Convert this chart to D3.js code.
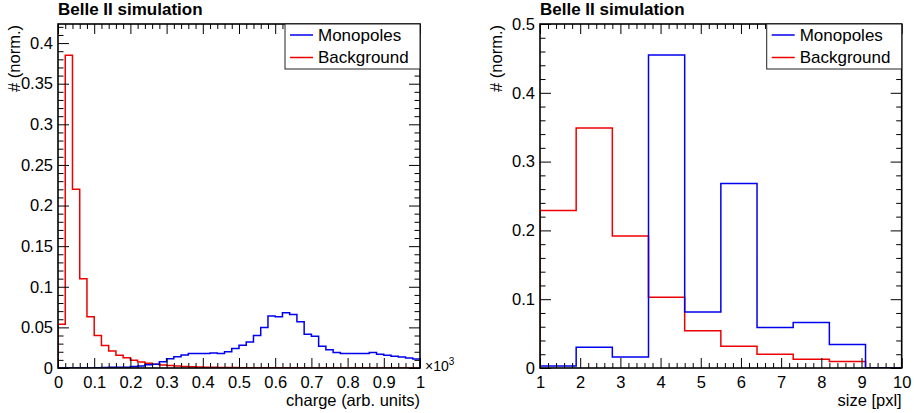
<!DOCTYPE html>
<html>
<head>
<meta charset="utf-8">
<script src="https://cdn.jsdelivr.net/npm/d3@7"></script>
<style>
  body { margin: 0; background: #fff; }
  svg { display: block; font-family: "Liberation Sans", Arial, Helvetica, sans-serif; }
</style>
</head>
<body>
<svg id="chart" width="914" height="413"></svg>
<script>
// charge histogram, 50 bins from 0 to 1000 (arb. units)
var chargeRange = [0, 1000];
var chargeMonopoles = [
  0, 0, 0, 0, 0, 0.0003, 0.0005, 0.001, 0.001, 0.001,
  0.002, 0.0025, 0.004, 0.0045, 0.0078, 0.0115, 0.014, 0.016, 0.018, 0.018,
  0.018, 0.0185, 0.018, 0.020, 0.024, 0.028, 0.032, 0.040, 0.050, 0.064,
  0.063, 0.068, 0.066, 0.057, 0.0415, 0.039, 0.0267, 0.0226, 0.019, 0.0177,
  0.0177, 0.0177, 0.0177, 0.019, 0.017, 0.0156, 0.0144, 0.0135, 0.0123, 0.011
];
var chargeBackground = [
  0.054, 0.385, 0.220, 0.110, 0.063, 0.040, 0.0276, 0.021, 0.0156, 0.0125,
  0.0095, 0.0074, 0.006, 0.0046, 0.0036, 0.003, 0.0024, 0.0018, 0.0014, 0.0011,
  0.0009, 0.0008, 0.0007, 0.0006, 0.0005, 0.0004, 0.0004, 0.0003, 0.0003, 0.0002,
  0.0002, 0.0002, 0.0002, 0.0001, 0.0001, 0.0001, 0.0001, 0.0001, 0.0001, 0.0001,
  0.0001, 0.0001, 0.0001, 0.0001, 0.0001, 0.0001, 0, 0, 0, 0
];

// cluster size histogram, 10 bins from 1 to 10 pixels
var sizeRange = [1, 10];
var sizeMonopoles = [0.003, 0.030, 0.016, 0.455, 0.0815, 0.268, 0.059, 0.066, 0.034, 0];
var sizeBackground = [0.229, 0.349, 0.192, 0.103, 0.054, 0.0316, 0.020, 0.0126, 0.0095, 0];

var chargeXTicks = [0, 0.1, 0.2, 0.3, 0.4, 0.5, 0.6, 0.7, 0.8, 0.9, 1];
var chargeYTicks = [0, 0.05, 0.1, 0.15, 0.2, 0.25, 0.3, 0.35, 0.4];
var sizeXTicks = [1, 2, 3, 4, 5, 6, 7, 8, 9, 10];
var sizeYTicks = [0, 0.1, 0.2, 0.3, 0.4, 0.5];

var legendNames = ["Monopoles", "Background"];
var monoColor = "#0000ee";
var bkgColor = "#ee0000";

var svg = d3.select("#chart");
var fontSize = 16.5;

function minorValues(majors, step, domain) {
  var out = [];
  var n = Math.round((domain[1] - domain[0]) / step);
  for (var i = 0; i <= n; i++) {
    var v = domain[0] + i * step;
    var isMajor = majors.some(function (m) { return Math.abs(m - v) < step / 10; });
    if (!isMajor) out.push(v);
  }
  return out;
}

function histPath(values, range, x, y) {
  var w = (range[1] - range[0]) / values.length;
  var pts = [[range[0], 0]];
  values.forEach(function (v, i) {
    pts.push([range[0] + i * w, v]);
    pts.push([range[0] + (i + 1) * w, v]);
  });
  pts.push([range[1], 0]);
  return d3.line()
    .x(function (d) { return x(d[0]); })
    .y(function (d) { return y(d[1]); })(pts);
}

function drawPanel(p) {
  var g = svg.append("g");
  var x = d3.scaleLinear().domain(p.xDomain).range([p.left, p.right]);
  var y = d3.scaleLinear().domain(p.yDomain).range([p.bottom, p.top]);

  var clipId = "clip" + p.id;
  svg.append("clipPath").attr("id", clipId)
    .append("rect")
    .attr("x", p.left).attr("y", p.top)
    .attr("width", p.right - p.left).attr("height", p.bottom - p.top);

  // histograms
  var hists = [
    { values: p.bkg, color: bkgColor },
    { values: p.mono, color: monoColor }
  ];
  hists.forEach(function (h) {
    g.append("path")
      .attr("d", histPath(h.values, p.xDomain, x, y))
      .attr("clip-path", "url(#" + clipId + ")")
      .attr("fill", "none")
      .attr("stroke", h.color)
      .attr("stroke-width", 1.5);
  });

  // ticks, ROOT style (pointing inside the frame, on all four sides)
  var xMinor = minorValues(p.xTicks, p.xMinorStep, p.xDomain);
  var yMinor = minorValues(p.yTicks, p.yMinorStep, p.yDomain);

  var bottomAxis = d3.axisBottom(x).tickValues(p.xTicks).tickSizeInner(-10).tickSizeOuter(0)
    .tickPadding(8).tickFormat(p.xFormat);
  g.append("g").attr("transform", "translate(0," + p.bottom + ")").call(bottomAxis);
  g.append("g").attr("transform", "translate(0," + p.bottom + ")")
    .call(d3.axisBottom(x).tickValues(xMinor).tickSizeInner(-5).tickSizeOuter(0).tickFormat(""));
  g.append("g").attr("transform", "translate(0," + p.top + ")")
    .call(d3.axisTop(x).tickValues(p.xTicks).tickSizeInner(-10).tickSizeOuter(0).tickFormat(""));
  g.append("g").attr("transform", "translate(0," + p.top + ")")
    .call(d3.axisTop(x).tickValues(xMinor).tickSizeInner(-5).tickSizeOuter(0).tickFormat(""));

  var leftAxis = d3.axisLeft(y).tickValues(p.yTicks).tickSizeInner(-11).tickSizeOuter(0)
    .tickPadding(5).tickFormat(function (d) { return d3.format("~g")(+d.toFixed(3)); });
  g.append("g").attr("transform", "translate(" + p.left + ",0)").call(leftAxis);
  g.append("g").attr("transform", "translate(" + p.left + ",0)")
    .call(d3.axisLeft(y).tickValues(yMinor).tickSizeInner(-5.5).tickSizeOuter(0).tickFormat(""));
  g.append("g").attr("transform", "translate(" + p.right + ",0)")
    .call(d3.axisRight(y).tickValues(p.yTicks).tickSizeInner(-11).tickSizeOuter(0).tickFormat(""));
  g.append("g").attr("transform", "translate(" + p.right + ",0)")
    .call(d3.axisRight(y).tickValues(yMinor).tickSizeInner(-5.5).tickSizeOuter(0).tickFormat(""));

  g.selectAll(".domain").remove();
  g.selectAll(".tick line").attr("stroke", "#000").attr("stroke-width", 1);
  g.selectAll(".tick text").attr("font-size", fontSize).attr("fill", "#000")
    .attr("font-family", "Liberation Sans, Arial, Helvetica, sans-serif");

  // frame
  g.append("rect")
    .attr("x", p.left).attr("y", p.top)
    .attr("width", p.right - p.left).attr("height", p.bottom - p.top)
    .attr("fill", "none").attr("stroke", "#000").attr("stroke-width", 1.6);

  // titles
  g.append("text")
    .attr("x", p.left).attr("y", 15)
    .attr("font-size", 17).attr("font-weight", "bold")
    .text("Belle II simulation");

  g.append("text")
    .attr("x", p.right).attr("y", 406)
    .attr("text-anchor", "end").attr("font-size", fontSize)
    .text(p.xTitle);

  g.append("text")
    .attr("transform", "translate(" + (p.left - 38) + "," + (p.top + 1) + ")rotate(-90)")
    .attr("text-anchor", "end").attr("font-size", fontSize)
    .text("# (norm.)");

  if (p.exponent) {
    var ex = g.append("text").attr("x", p.right + 5).attr("y", 371).attr("font-size", 14);
    ex.append("tspan").text("×10");
    ex.append("tspan").attr("font-size", 10).attr("dy", -6).text("3");
  }

  // legend
  var lx = p.right - 135, ly = p.top, lw = 135, lh = 45;
  g.append("rect")
    .attr("x", lx).attr("y", ly).attr("width", lw).attr("height", lh)
    .attr("fill", "#fff").attr("stroke", "#222").attr("stroke-width", 1);
  [monoColor, bkgColor].forEach(function (c, i) {
    var cy = ly + 11 + i * 22.5;
    g.append("line")
      .attr("x1", lx + 5).attr("x2", lx + 28).attr("y1", cy).attr("y2", cy)
      .attr("stroke", c).attr("stroke-width", 1.5);
    g.append("text")
      .attr("x", lx + 33).attr("y", cy).attr("dy", "0.35em")
      .attr("font-size", 17)
      .text(legendNames[i]);
  });
}

drawPanel({
  id: "Charge",
  left: 58, right: 420, top: 24, bottom: 368,
  xDomain: chargeRange, yDomain: [0, 0.4235],
  xTicks: chargeXTicks.map(function (d) { return d * 1000; }),
  xMinorStep: 20,
  xFormat: function (d) { return d3.format("~g")(d / 1000); },
  yTicks: chargeYTicks, yMinorStep: 0.01,
  mono: chargeMonopoles, bkg: chargeBackground,
  xTitle: "charge (arb. units)",
  exponent: true
});

drawPanel({
  id: "Size",
  left: 540, right: 901.7, top: 24, bottom: 368,
  xDomain: sizeRange, yDomain: [0, 0.5],
  xTicks: sizeXTicks, xMinorStep: 0.2,
  xFormat: function (d) { return d3.format("~g")(d); },
  yTicks: sizeYTicks, yMinorStep: 0.02,
  mono: sizeMonopoles, bkg: sizeBackground,
  xTitle: "size [pxl]",
  exponent: false
});
</script>
</body>
</html>
